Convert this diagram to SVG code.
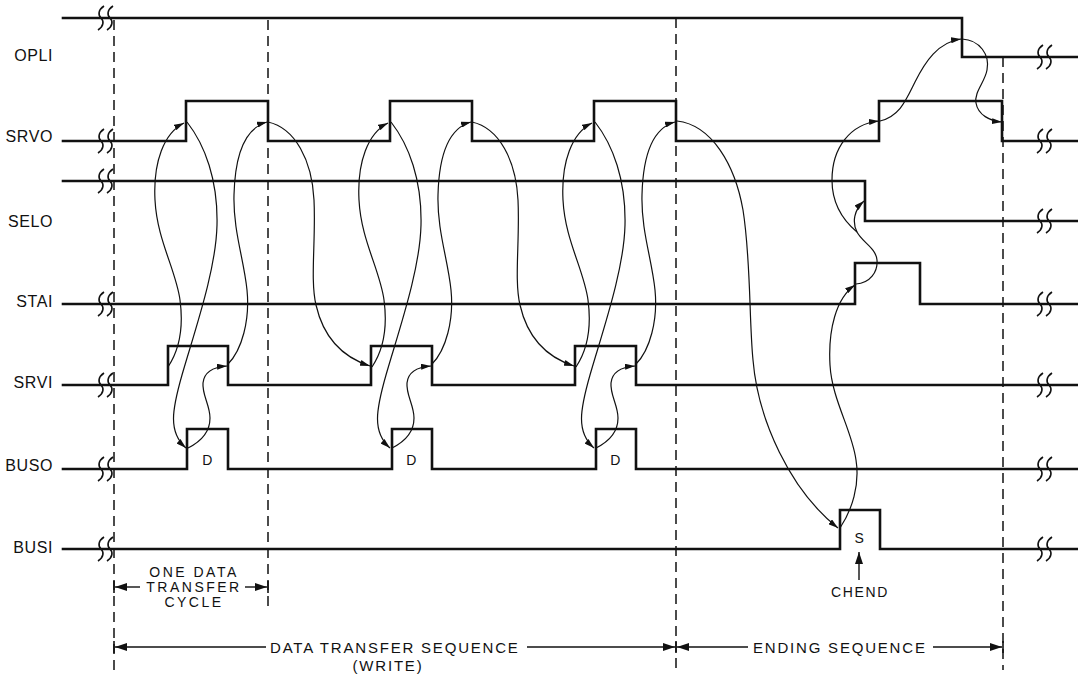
<svg xmlns="http://www.w3.org/2000/svg" xmlns:xlink="http://www.w3.org/1999/xlink" width="1078" height="677" viewBox="0 0 1078 677">
<style>
.sig{fill:none;stroke:#111;stroke-width:2.6;stroke-linejoin:miter;stroke-linecap:square}
.brk{fill:none;stroke:#111;stroke-width:1.6}
.dash{fill:none;stroke:#111;stroke-width:1.5;stroke-dasharray:10 6}
.cv{fill:none;stroke:#111;stroke-width:1.2;marker-end:url(#ah)}
.dim{fill:none;stroke:#111;stroke-width:1.4}
.tick{stroke:#111;stroke-width:1.6}
.lbl{font-family:"Liberation Sans",Arial,sans-serif;font-size:16px;fill:#111;letter-spacing:0.6px}
.txt{font-family:"Liberation Sans",Arial,sans-serif;font-size:15px;fill:#111;letter-spacing:1.8px}
.sm{font-family:"Liberation Sans",Arial,sans-serif;font-size:14px;fill:#111;letter-spacing:1.6px}
.cyc{font-family:"Liberation Sans",Arial,sans-serif;font-size:14px;fill:#111;letter-spacing:2.5px}
</style>
<defs>
<marker id="ah" viewBox="0 0 10 6" refX="10" refY="3" markerWidth="10" markerHeight="6" orient="auto" markerUnits="userSpaceOnUse"><path d="M0,0 L10,3 L0,6 z" fill="#111"/></marker>
<marker id="dh" viewBox="0 0 12 8" refX="12" refY="4" markerWidth="12" markerHeight="8" orient="auto-start-reverse" markerUnits="userSpaceOnUse"><path d="M0,0 L12,4 L0,8 z" fill="#111"/></marker>
<path id="brk" class="brk" d="M3,-12 C-3,-8 -3,-3 0,0 C3,3 3,8 -3,12"/>
</defs>
<rect width="1078" height="677" fill="#fff"/>

<g id="gridlines">
<line class="dash" x1="114" y1="20" x2="114" y2="672"/>
<line class="dash" x1="268" y1="20" x2="268" y2="612"/>
<line class="dash" x1="676" y1="18" x2="676" y2="670"/>
<line class="dash" x1="1003" y1="57" x2="1003" y2="670"/>
</g>

<g id="OPLI">
<text class="lbl" x="53" y="61" text-anchor="end">OPLI</text>
<path class="sig" d="M63,18 H962 V57 H1078"/>
<use href="#brk" x="101" y="18"/><use href="#brk" x="110" y="18"/>
<use href="#brk" x="1040" y="57"/><use href="#brk" x="1049" y="57"/>
</g>
<g id="SRVO">
<text class="lbl" x="53" y="142" text-anchor="end">SRVO</text>
<path class="sig" d="M63,141 H186 V101 H268 V141 H390 V101 H472 V141 H594 V101 H676 V141 H879 V101 H1002 V141 H1078"/>
<use href="#brk" x="101" y="141"/><use href="#brk" x="110" y="141"/>
<use href="#brk" x="1040" y="141"/><use href="#brk" x="1049" y="141"/>
</g>
<g id="SELO">
<text class="lbl" x="53" y="227" text-anchor="end">SELO</text>
<path class="sig" d="M63,181 H865 V221 H1078"/>
<use href="#brk" x="101" y="181"/><use href="#brk" x="110" y="181"/>
<use href="#brk" x="1040" y="221"/><use href="#brk" x="1049" y="221"/>
</g>
<g id="STAI">
<text class="lbl" x="53" y="307" text-anchor="end">STAI</text>
<path class="sig" d="M63,304 H855 V263 H920 V304 H1078"/>
<use href="#brk" x="101" y="304"/><use href="#brk" x="110" y="304"/>
<use href="#brk" x="1040" y="304"/><use href="#brk" x="1049" y="304"/>
</g>
<g id="SRVI">
<text class="lbl" x="53" y="388" text-anchor="end">SRVI</text>
<path class="sig" d="M63,385 H168 V346 H228 V385 H371 V346 H432 V385 H575 V346 H636 V385 H1078"/>
<use href="#brk" x="101" y="385"/><use href="#brk" x="110" y="385"/>
<use href="#brk" x="1040" y="385"/><use href="#brk" x="1049" y="385"/>
</g>
<g id="BUSO">
<text class="lbl" x="53" y="471" text-anchor="end">BUSO</text>
<path class="sig" d="M63,469 H187 V429 H228 V469 H392 V429 H432 V469 H596 V429 H636 V469 H1078"/>
<use href="#brk" x="101" y="469"/><use href="#brk" x="110" y="469"/>
<use href="#brk" x="1040" y="469"/><use href="#brk" x="1049" y="469"/>
<text class="sm" x="208" y="465" text-anchor="middle">D</text>
<text class="sm" x="412" y="465" text-anchor="middle">D</text>
<text class="sm" x="616" y="465" text-anchor="middle">D</text>
</g>
<g id="BUSI">
<text class="lbl" x="53" y="553" text-anchor="end">BUSI</text>
<path class="sig" d="M63,549 H840 V510 H880 V549 H1078"/>
<use href="#brk" x="101" y="549"/><use href="#brk" x="110" y="549"/>
<use href="#brk" x="1040" y="549"/><use href="#brk" x="1049" y="549"/>
<text class="sm" x="860" y="543" text-anchor="middle">S</text>
</g>

<g id="connectors">
<g id="cycle1">
<path class="cv" d="M168,367 C178,352 184,330 180,300 C176,270 157,240 155,200 C153,162 164,133 184,123"/>
<path class="cv" d="M187,122 C205,145 218,180 217,225 C216,270 195,330 182,375 C172,410 168,432 186,448"/>
<path class="cv" d="M188,448 C200,442 210,432 210,418 C210,405 202,395 203,383 C204,372 214,367 227,366"/>
<path class="cv" d="M228,364 C242,350 250,320 247,290 C244,260 233,230 234,195 C235,155 245,128 267,122"/>
<path class="cv" d="M268,122 C295,128 312,160 314,200 C316,240 310,280 316,305 C324,340 345,358 370,366"/>
</g>
<g id="cycle2" transform="translate(204,0)">
<path class="cv" d="M168,367 C178,352 184,330 180,300 C176,270 157,240 155,200 C153,162 164,133 184,123"/>
<path class="cv" d="M187,122 C205,145 218,180 217,225 C216,270 195,330 182,375 C172,410 168,432 186,448"/>
<path class="cv" d="M188,448 C200,442 210,432 210,418 C210,405 202,395 203,383 C204,372 214,367 227,366"/>
<path class="cv" d="M228,364 C242,350 250,320 247,290 C244,260 233,230 234,195 C235,155 245,128 267,122"/>
<path class="cv" d="M268,122 C295,128 312,160 314,200 C316,240 310,280 316,305 C324,340 345,358 370,366"/>
</g>
<g id="cycle3" transform="translate(408,0)">
<path class="cv" d="M168,367 C178,352 184,330 180,300 C176,270 157,240 155,200 C153,162 164,133 184,123"/>
<path class="cv" d="M187,122 C205,145 218,180 217,225 C216,270 195,330 182,375 C172,410 168,432 186,448"/>
<path class="cv" d="M188,448 C200,442 210,432 210,418 C210,405 202,395 203,383 C204,372 214,367 227,366"/>
<path class="cv" d="M228,364 C242,350 250,320 247,290 C244,260 233,230 234,195 C235,155 245,128 267,122"/>
</g>
<g id="ending">
<path class="cv" d="M677,121 C712,125 735,165 743,210 C751,260 749,320 753,360 C758,420 790,490 838,528"/>
<path class="cv" d="M840,528 C852,510 860,485 856,460 C852,430 832,400 830,365 C828,330 836,298 855,285"/>
<path class="cv" d="M856,284 C870,283 878,272 877,260 C876,248 862,242 857,232 C852,222 854,210 864,201"/>
<path class="cv" d="M857,232 C845,222 832,205 832,180 C832,148 850,124 879,121"/>
<path class="cv" d="M880,121 C900,116 906,100 915,82 C925,62 938,42 961,39"/>
<path class="cv" d="M962,39 C980,40 990,55 987,70 C985,82 974,92 976,103 C978,115 990,121 1002,122"/>
</g>
</g>

<g id="annotations">
<text class="cyc" x="194" y="577" text-anchor="middle">ONE DATA</text>
<text class="cyc" x="194" y="592" text-anchor="middle">TRANSFER</text>
<text class="cyc" x="194" y="607" text-anchor="middle">CYCLE</text>
<line class="tick" x1="114" y1="581" x2="114" y2="593"/>
<line class="tick" x1="268" y1="581" x2="268" y2="593"/>
<path class="dim" d="M140,587 H115" marker-end="url(#dh)"/>
<path class="dim" d="M245,587 H267" marker-end="url(#dh)"/>

<line class="tick" x1="114" y1="641" x2="114" y2="653"/>
<line class="tick" x1="676" y1="641" x2="676" y2="653"/>
<line class="tick" x1="1003" y1="641" x2="1003" y2="653"/>
<path class="dim" d="M266,647 H115" marker-end="url(#dh)"/>
<text class="txt" x="270" y="653">DATA TRANSFER SEQUENCE</text>
<text class="txt" x="388" y="671" text-anchor="middle">(WRITE)</text>
<path class="dim" d="M527,647 H675" marker-end="url(#dh)"/>
<path class="dim" d="M748,647 H677" marker-end="url(#dh)"/>
<text class="txt" x="753" y="653">ENDING SEQUENCE</text>
<path class="dim" d="M933,647 H1002" marker-end="url(#dh)"/>

<path class="dim" d="M859,580 V552" marker-end="url(#dh)"/>
<text class="sm" x="860" y="597" text-anchor="middle">CHEND</text>
</g>
</svg>
